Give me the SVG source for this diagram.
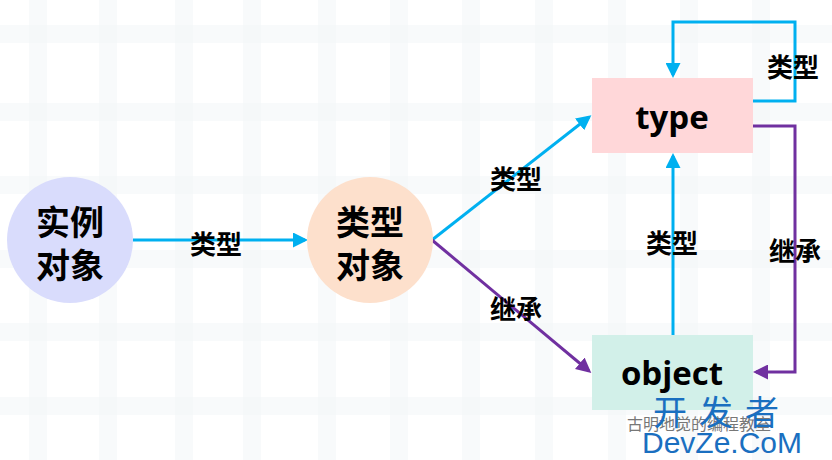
<svg xmlns="http://www.w3.org/2000/svg" width="832" height="460" viewBox="0 0 832 460">
<style>
.lbl{font-family:"Noto Sans CJK SC",sans-serif;font-weight:bold;font-size:26px;fill:#000;text-anchor:middle;dominant-baseline:central}
.node{font-family:"Noto Sans CJK SC",sans-serif;font-weight:bold;font-size:34px;fill:#000;text-anchor:middle;dominant-baseline:central}
.en{font-family:"Open Sans","Noto Sans",sans-serif;font-weight:bold;font-size:33px;fill:#000;text-anchor:middle;dominant-baseline:central}
.b{stroke:#00b0f0;stroke-width:3;fill:none}
.p{stroke:#7030a0;stroke-width:3;fill:none}
.grid{fill:#f2f6f8;opacity:0.55}
</style>
<defs>
<marker id="ab" viewBox="0 0 10 10" refX="8" refY="5" markerWidth="5" markerHeight="5" orient="auto"><path d="M0,0L10,5L0,10z" fill="#00b0f0"/></marker>
<marker id="ap" viewBox="0 0 10 10" refX="8" refY="5" markerWidth="5" markerHeight="5" orient="auto"><path d="M0,0L10,5L0,10z" fill="#7030a0"/></marker>
</defs>
<rect width="832" height="460" fill="#fff"/>
<g id="bg">
<rect class="grid" x="29" y="0" width="18" height="460"/><rect class="grid" x="99" y="0" width="18" height="460"/>
<rect class="grid" x="175" y="0" width="18" height="460"/><rect class="grid" x="243" y="0" width="18" height="460"/>
<rect class="grid" x="318" y="0" width="18" height="460"/><rect class="grid" x="390" y="0" width="18" height="460"/>
<rect class="grid" x="462" y="0" width="18" height="460"/><rect class="grid" x="535" y="0" width="18" height="460"/>
<rect class="grid" x="608" y="0" width="18" height="460"/><rect class="grid" x="680" y="0" width="18" height="460"/>
<rect class="grid" x="752" y="0" width="18" height="460"/>
<rect class="grid" x="0" y="25" width="832" height="18"/><rect class="grid" x="0" y="103" width="832" height="18"/>
<rect class="grid" x="0" y="176" width="832" height="18"/><rect class="grid" x="0" y="250" width="832" height="18"/>
<rect class="grid" x="0" y="323" width="832" height="18"/><rect class="grid" x="0" y="397" width="832" height="18"/>
</g>
<g id="connectors">
<line class="b" x1="133" y1="240" x2="305" y2="240" marker-end="url(#ab)"/>
<line class="b" x1="432" y1="240" x2="589" y2="117" marker-end="url(#ab)"/>
<line class="p" x1="432" y1="240" x2="589" y2="371" marker-end="url(#ap)"/>
<line class="b" x1="673" y1="335" x2="673" y2="156" marker-end="url(#ab)"/>
<polyline class="b" points="752,101 795,101 795,22 673,22 673,75" marker-end="url(#ab)"/>
<polyline class="p" points="752,126 795,126 795,372 756,372" marker-end="url(#ap)"/>
<text class="lbl" x="216" y="242">类型</text>
<text class="lbl" x="516" y="177">类型</text>
<text class="lbl" x="672" y="241">类型</text>
<text class="lbl" x="793" y="65">类型</text>
<text class="lbl" x="516" y="307">继承</text>
<text class="lbl" x="795" y="249">继承</text>
</g>
<g id="instance"><circle cx="70" cy="240" r="63" fill="#d9dcfc"/><text class="node" x="70" y="220">实例</text><text class="node" x="70" y="263">对象</text></g>
<g id="typeobj"><circle cx="370" cy="240" r="63" fill="#fde0cc"/><text class="node" x="370" y="220">类型</text><text class="node" x="370" y="263">对象</text></g>
<g id="type"><rect x="592" y="78" width="161" height="75" fill="#ffd7d9"/><text class="en" x="672" y="116">type</text></g>
<g id="object"><rect x="592" y="335" width="161" height="75" fill="#d2f0e9"/><text class="en" x="672" y="372">object</text></g>
<g id="watermark">
<text x="627" y="423" font-family="Noto Sans CJK SC,sans-serif" font-size="16" fill="#777" dominant-baseline="central">古明地觉的编程教室</text>
<text x="722" y="410" font-family="Noto Sans CJK SC,sans-serif" font-size="34" fill="#1a6fc0" text-anchor="middle" letter-spacing="12" dominant-baseline="central">开发者</text>
<text x="722" y="442" font-family="Liberation Sans,sans-serif" font-size="30" fill="#1a6fc0" text-anchor="middle" dominant-baseline="central">DevZe.CoM</text>
</g>
</svg>
